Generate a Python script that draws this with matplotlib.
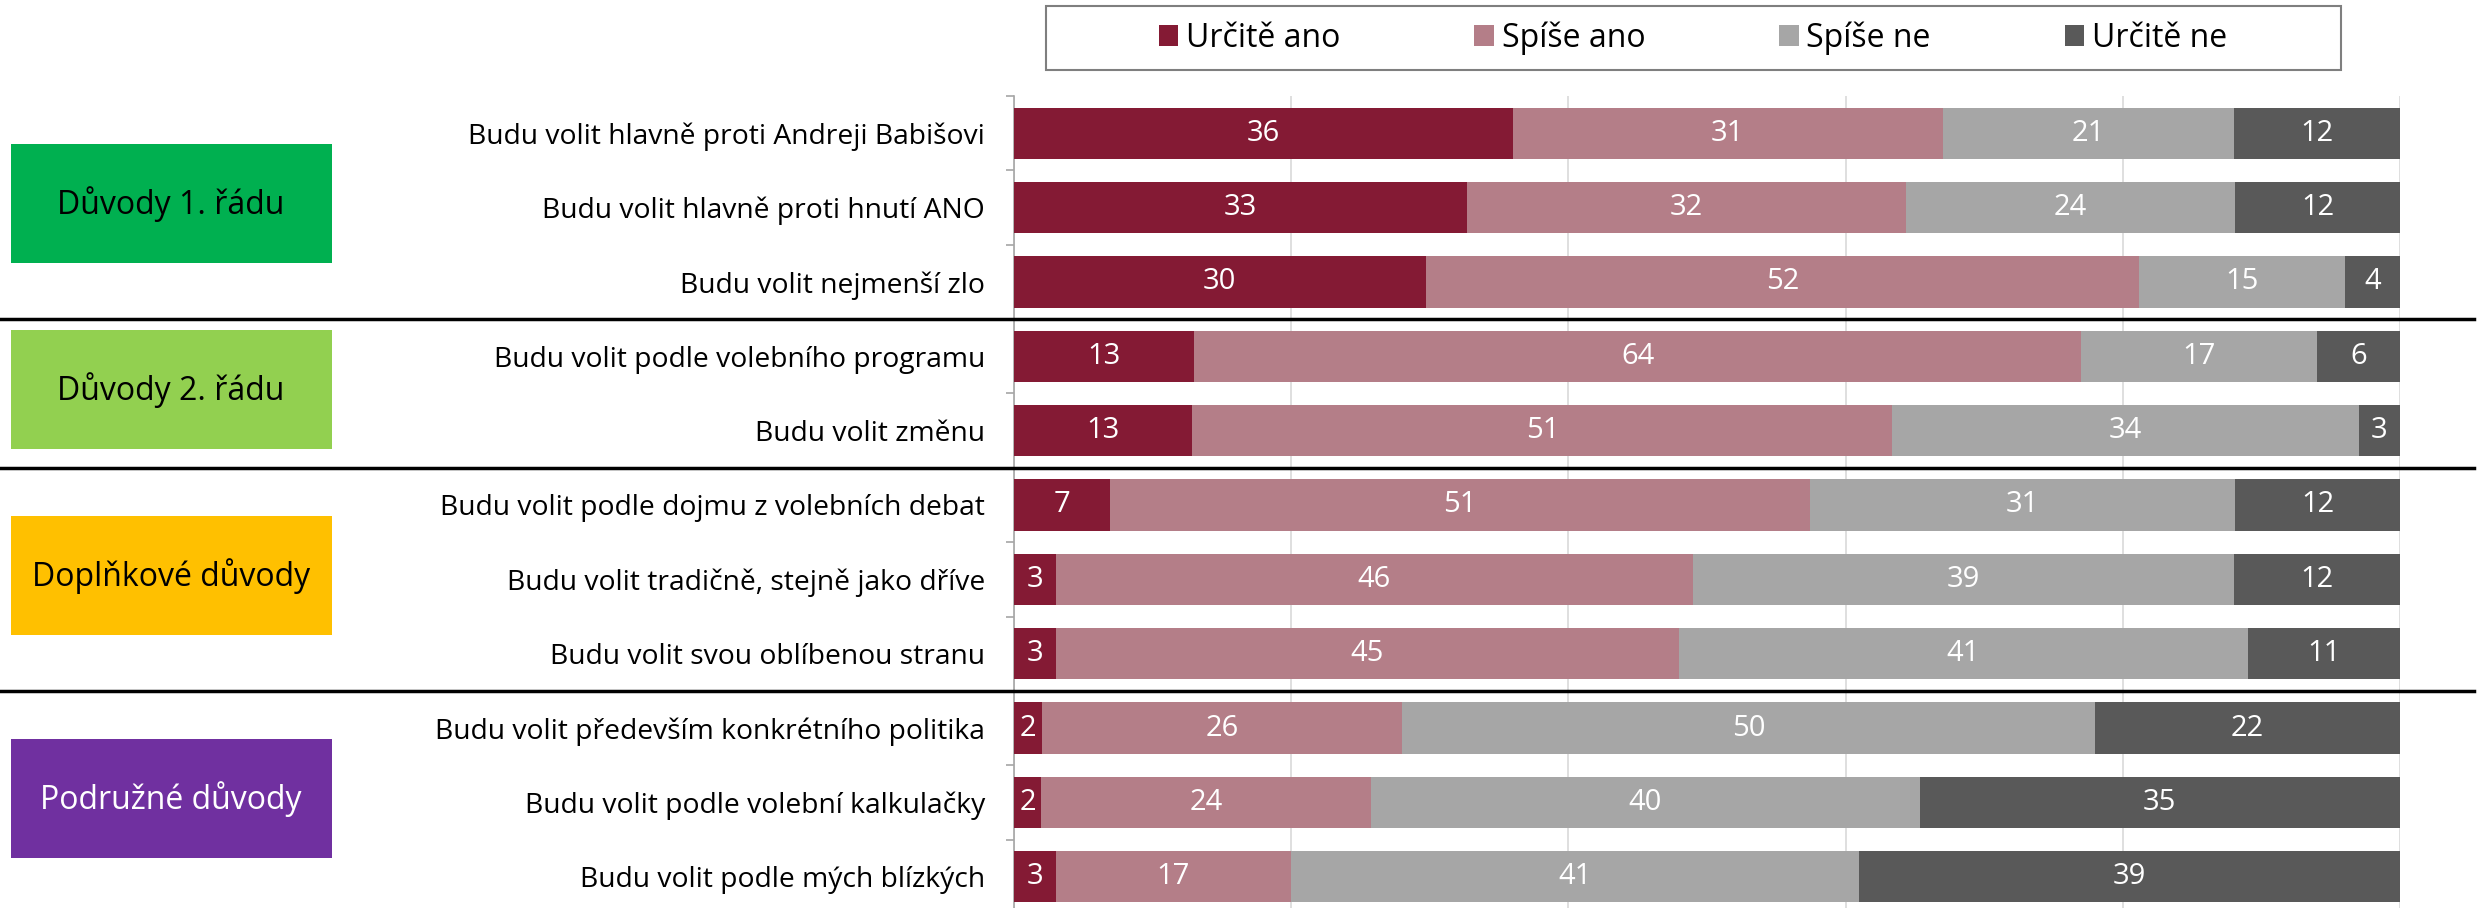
import numpy as np
import matplotlib
matplotlib.use("Agg")
import matplotlib.pyplot as plt
from matplotlib.patches import Rectangle
from matplotlib.lines import Line2D
import matplotlib.transforms as mtransforms

plt.rcParams['font.family'] = ['Open Sans', 'DejaVu Sans']

# data (top to bottom)
categories = [
    "Budu volit hlavně proti Andreji Babišovi",
    "Budu volit hlavně proti hnutí ANO",
    "Budu volit nejmenší zlo",
    "Budu volit podle volebního programu",
    "Budu volit změnu",
    "Budu volit podle dojmu z volebních debat",
    "Budu volit tradičně, stejně jako dříve",
    "Budu volit svou oblíbenou stranu",
    "Budu volit především konkrétního politika",
    "Budu volit podle volební kalkulačky",
    "Budu volit podle mých blízkých",
]
series_names = ["Určitě ano", "Spíše ano", "Spíše ne", "Určitě ne"]
urcite_ano = [36, 33, 30, 13, 13, 7, 3, 3, 2, 2, 3]
spise_ano = [31, 32, 52, 64, 51, 51, 46, 45, 26, 24, 17]
spise_ne = [21, 24, 15, 17, 34, 31, 39, 41, 50, 40, 41]
urcite_ne = [12, 12, 4, 6, 3, 12, 12, 11, 22, 35, 39]

groups = ["Důvody 1. řádu", "Důvody 2. řádu", "Doplňkové důvody", "Podružné důvody"]
group_sizes = [3, 2, 3, 3]

colors = ["#841A34", "#B47E88", "#A6A6A6", "#595959"]
group_colors = ["#00B050", "#92D050", "#FFC000", "#7030A0"]
group_text = ["black", "black", "black", "white"]

W, H = 2481, 908
fig = plt.figure(figsize=(W / 100, H / 100), dpi=100)
ax = fig.add_axes([1014 / W, (H - 914) / H, 1386 / W, (914 - 96) / H])

vals = np.array([urcite_ano, spise_ano, spise_ne, urcite_ne], dtype=float)
totals = vals.sum(axis=0)
pct = vals / totals * 100  # 100% stacked
y = np.arange(len(categories))

left = np.zeros(len(categories))
for i in range(4):
    bars = ax.barh(y, pct[i], left=left, height=0.69, color=colors[i],
                   label=series_names[i], zorder=3)
    for j, b in enumerate(bars):
        ax.text(left[j] + pct[i][j] / 2, y[j], f"{int(vals[i][j])}",
                ha="center", va="center", color="white", fontsize=21, zorder=4)
    left += pct[i]

ax.set_xlim(0, 100)
ax.set_ylim(len(categories) - 0.5, -0.5)
ax.set_xticks([0, 20, 40, 60, 80, 100])
ax.xaxis.grid(True, color="#D9D9D9", linewidth=1.2, zorder=0)
ax.tick_params(axis="x", length=0, labelbottom=False)
ax.set_yticks(y)
ax.set_yticklabels(categories, fontsize=20.3)
ax.set_yticks(np.arange(-0.5, len(categories), 1), minor=True)
ax.tick_params(axis="y", which="major", length=0, pad=21)
ax.tick_params(axis="y", which="minor", length=6, color="#A6A6A6", width=1.2)
for s in ["top", "right", "bottom"]:
    ax.spines[s].set_visible(False)
ax.spines["left"].set_color("#A6A6A6")
ax.spines["left"].set_linewidth(1.2)

# group boxes and separators
trans = mtransforms.blended_transform_factory(fig.transFigure, ax.transData)
start = 0
for k, g in enumerate(groups):
    n = group_sizes[k]
    center = start + (n - 1) / 2 - 0.05
    fig.patches.append(Rectangle((11 / W, center - 0.8), 321 / W, 1.6, transform=trans,
                                 facecolor=group_colors[k], edgecolor="none"))
    fig.text(171 / W, center, g, transform=trans, ha="center", va="center",
             fontsize=23, color=group_text[k])
    start += n
    if k < len(groups) - 1:
        fig.lines.append(Line2D([0, 0.997], [start - 0.5, start - 0.5], transform=trans,
                                color="black", linewidth=2.5))

# legend box
fig.patches.append(Rectangle((1046 / W, 1 - 70 / H), 1295 / W, 64 / H, transform=fig.transFigure,
                             facecolor="white", edgecolor="#7F7F7F", linewidth=1.5))
fig.legend(loc="center", bbox_to_anchor=(1693 / W, 1 - 38 / H), ncol=4, frameon=False,
           fontsize=23, handlelength=0.6, handleheight=0.6, handletextpad=0.25,
           columnspacing=4.2)

fig.savefig("out.png", dpi=100)
